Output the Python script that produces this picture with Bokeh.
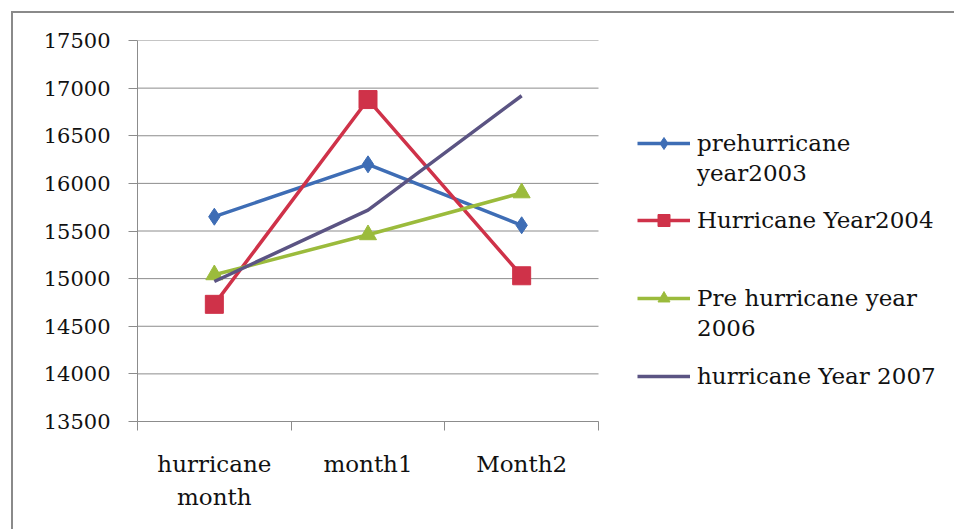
from bokeh.plotting import figure
from bokeh.models import FixedTicker, Legend, LegendItem
from bokeh.embed import file_html
from bokeh.resources import INLINE

categories = ["hurricane\nmonth", "month1", "Month2"]
series_names = ["prehurricane\nyear2003", "Hurricane Year2004", "Pre hurricane year\n2006", "hurricane Year 2007"]
pre2003 = [15650, 16200, 15560]
hur2004 = [14730, 16880, 15030]
pre2006 = [15040, 15460, 15900]
hur2007 = [14970, 15720, 16920]
y_ticks = [13500, 14000, 14500, 15000, 15500, 16000, 16500, 17000, 17500]

FONT = "DejaVu Serif"
GRID = "#8c8c8c"

n = len(categories)
xs = [i + 0.5 for i in range(n)]
bounds = [float(i) for i in range(n + 1)]
x_end = n * 819 / 461  # frame also hosts the legend on the right

p = figure(width=943, height=518, output_backend="svg", toolbar_location=None,
           x_range=(0, x_end), y_range=(y_ticks[0], y_ticks[-1]),
           min_border_left=124, min_border_top=27, min_border_bottom=110, min_border_right=0,
           background_fill_color="white", border_fill_color="white",
           styles={"margin-left": "11px", "margin-top": "11px",
                   "border-left": "2px solid #8a8a8a", "border-top": "2px solid #8a8a8a"})
p.outline_line_color = None

p.xaxis.bounds = (0, n)
p.xaxis.ticker = FixedTicker(ticks=xs, minor_ticks=bounds)
p.xaxis.major_label_overrides = {x: c for x, c in zip(xs, categories)}
p.xaxis.major_tick_out = 0
p.xaxis.major_tick_in = 0
p.xaxis.minor_tick_out = 9
p.xaxis.minor_tick_in = 0
p.xaxis.minor_tick_line_color = GRID
p.xaxis.axis_line_color = GRID
p.xaxis.major_label_standoff = 20
p.xaxis.major_label_text_font = FONT
p.xaxis.major_label_text_font_size = "23px"
p.xaxis.major_label_text_color = "#111111"
p.xaxis.major_label_text_line_height = 1.3

p.yaxis.ticker = FixedTicker(ticks=y_ticks, minor_ticks=[])
p.yaxis.major_tick_out = 9
p.yaxis.major_tick_in = 0
p.yaxis.major_tick_line_color = GRID
p.yaxis.axis_line_color = GRID
p.yaxis.major_label_standoff = 18
p.yaxis.major_label_text_font = FONT
p.yaxis.major_label_text_font_size = "21px"
p.yaxis.major_label_text_color = "#111111"

p.xgrid.visible = False
p.ygrid.visible = False
p.segment(x0=0, x1=n, y0=y_ticks, y1=y_ticks, line_color=GRID, line_width=1)

colors = ["#3E6DB5", "#CF3249", "#9BBB3C", "#5B5483"]
data = [pre2003, hur2004, pre2006, hur2007]
markers = ["diamond", "square", "triangle", None]
sizes = [17, 18, 17, 0]
legend_loc = [(500, 233), (500, 186), (500, 78), (500, 30)]

for name, vals, col, mk, sz, loc in zip(series_names, data, colors, markers, sizes, legend_loc):
    rs = [p.line(xs, vals, line_color=col, line_width=3.5)]
    if mk:
        rs.append(p.scatter(xs, vals, marker=mk, size=sz, fill_color=col, line_color=col))
    lines = name.split("\n")
    items = [LegendItem(label=lines[0], renderers=rs)]
    items += [LegendItem(label=extra, renderers=[]) for extra in lines[1:]]
    lg = Legend(items=items, location=loc,
                glyph_width=53, glyph_height=30, label_standoff=7, label_height=30, spacing=0,
                label_text_font=FONT, label_text_font_size="23px",
                label_text_color="#111111",
                padding=0, margin=0, border_line_color=None, background_fill_alpha=0)
    p.add_layout(lg)

open("out.html", "w").write(file_html(p, INLINE))
